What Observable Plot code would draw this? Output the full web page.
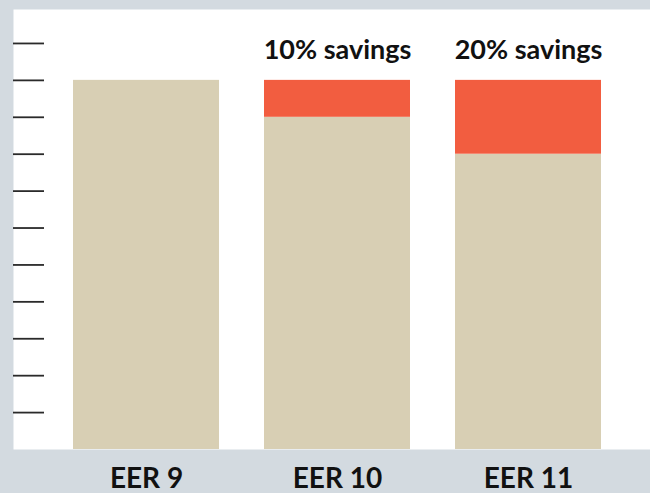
<!DOCTYPE html>
<html>
<head>
<meta charset="utf-8">
<script src="https://cdn.jsdelivr.net/npm/d3@7"></script>
<script src="https://cdn.jsdelivr.net/npm/@observablehq/plot@0.6"></script>
<style>
  html, body { margin: 0; padding: 0; background: #d3dae0; }
  #chart { width: 650px; height: 493px; overflow: hidden; }
</style>
</head>
<body>
<div id="chart"></div>
<script>
const categories = ["EER 9", "EER 10", "EER 11"];
const baseValues = [10, 9, 8];
const savingsValues = [0, 1, 2];
const savingsLabels = ["", "10% savings", "20% savings"];
const totals = [10, 10, 10];
const yTicks = [1, 2, 3, 4, 5, 6, 7, 8, 9, 10, 11];

const rows = [];
categories.forEach((c, i) => {
  rows.push({cat: c, part: "base", value: baseValues[i]});
  rows.push({cat: c, part: "savings", value: savingsValues[i]});
});
const labels = categories.map((c, i) => ({cat: c, total: totals[i], label: savingsLabels[i]}));

const chart = Plot.plot({
  width: 650,
  height: 493,
  marginLeft: 13,
  marginRight: 0,
  marginTop: 9,
  marginBottom: 44,
  style: {background: "transparent", fontFamily: "Lato, 'Open Sans', sans-serif", color: "#111"},
  x: {domain: categories, range: [72, 601], paddingInner: 0.2376, paddingOuter: 0, label: null},
  y: {domain: [0, 11.92], label: null},
  color: {domain: ["base", "savings"], range: ["#d8cfb4", "#f25d40"]},
  marks: [
    Plot.frame({fill: "white", stroke: null}),
    Plot.barY(rows, {x: "cat", y: "value", fill: "part"}),
    Plot.axisY({ticks: yTicks, tickSize: -31, tickFormat: () => "", stroke: "#2a2a2a", strokeWidth: 1.8, strokeOpacity: 1}),
    Plot.axisX({tickSize: 0, tickPadding: 19, fontSize: 28, fontWeight: "bold", fill: "#111", label: null}),
    Plot.text(labels, {x: "cat", y: "total", text: "label", dy: -30.5, lineAnchor: "middle", fontSize: 27, fontWeight: "bold", fill: "#111"})
  ]
});
document.getElementById("chart").appendChild(chart);
</script>
</body>
</html>
